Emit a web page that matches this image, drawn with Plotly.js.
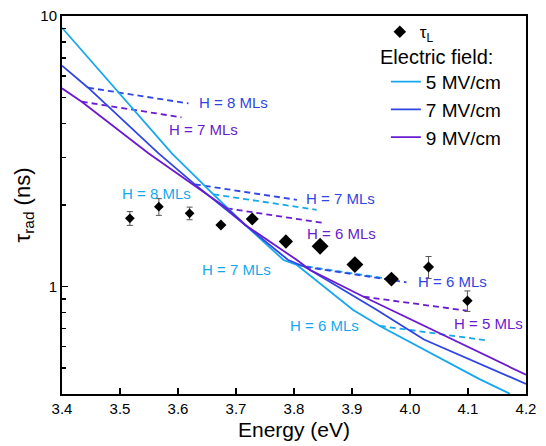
<!DOCTYPE html>
<html>
<head>
<meta charset="utf-8">
<script src="https://cdn.plot.ly/plotly-3.0.1.min.js"></script>
<style>html,body{margin:0;padding:0;background:#fff;}#chart{width:546px;height:446px;}</style>
</head>
<body>
<div id="chart"></div>
<script>
// Measured lifetimes tau_L
const measE   = [3.517, 3.567, 3.620, 3.674, 3.728, 3.786, 3.845, 3.905, 3.968, 4.032, 4.099];
const measTau = [1.786, 1.971, 1.864, 1.687, 1.776, 1.466, 1.407, 1.204, 1.064, 1.180, 0.885];
const measErr = [0.105, 0.140, 0.100, 0, 0, 0, 0, 0, 0, 0.110, 0.077];

// Theory, solid curves (tau_rad vs energy) for each electric field
const e5   = [3.400, 3.589, 3.661, 3.716, 3.782, 3.805, 3.902, 3.948, 4.119, 4.172];
const tau5 = [9.05, 3.11, 2.19, 1.687, 1.252, 1.200, 0.818, 0.714, 0.455, 0.401];
const e7   = [3.400, 3.445, 3.566, 3.629, 3.716, 3.790, 3.819, 3.943, 4.024, 4.200];
const tau7 = [6.55, 5.43, 3.11, 2.385, 1.687, 1.252, 1.180, 0.818, 0.636, 0.436];
const e9   = [3.400, 3.434, 3.549, 3.684, 3.716, 3.805, 3.828, 3.920, 4.200];
const tau9 = [5.40, 4.82, 3.11, 1.945, 1.687, 1.252, 1.150, 0.916, 0.471];

// Dashed branches (fixed thickness H), [start, end]
const d5_H8 = {e: [3.661, 3.839], t: [2.19, 1.92]};
const d5_H7 = {e: [3.805, 3.969], t: [1.20, 1.062]};
const d5_H6 = {e: [3.948, 4.129], t: [0.714, 0.633]};
const d7_H8 = {e: [3.445, 3.618], t: [5.43, 4.75]};
const d7_H7 = {e: [3.629, 3.805], t: [2.385, 2.09]};
const d7_H6 = {e: [3.819, 3.994], t: [1.180, 1.035]};
const d9_H7 = {e: [3.434, 3.606], t: [4.82, 4.22]};
const d9_H6 = {e: [3.684, 3.848], t: [1.945, 1.72]};
const d9_H5 = {e: [3.920, 4.098], t: [0.916, 0.813]};

// Labels
const labTexts = ['H = 8 MLs','H = 7 MLs','H = 8 MLs','H = 7 MLs','H = 6 MLs','H = 7 MLs','H = 6 MLs','H = 5 MLs','H = 6 MLs'];
const labE     = [3.633, 3.581, 3.500, 3.817, 3.819, 3.638, 4.010, 4.072, 3.790];
const labTau   = [4.77, 3.79, 2.197, 2.114, 1.563, 1.150, 1.041, 0.729, 0.714];
const labField = [7, 9, 5, 7, 9, 5, 7, 9, 5];

const fieldNames = ['5 MV/cm', '7 MV/cm', '9 MV/cm'];
const legendHeading = 'Electric field:';

const C5 = '#16a8ee', C7 = '#2f46e2', C9 = '#6a1ad0';
const colorOf = {5: C5, 7: C7, 9: C9};
const FONT = 'Arial, "Liberation Sans", sans-serif';

function dashTrace(d, c) {
  return {x: d.e, y: d.t, mode: 'lines', type: 'scatter', showlegend: false, hoverinfo: 'skip',
          line: {color: c, width: 1.8, dash: '6px,4px'}};
}

const traces = [
  dashTrace(d5_H8, C5), dashTrace(d5_H7, C5), dashTrace(d5_H6, C5),
  dashTrace(d7_H8, C7), dashTrace(d7_H7, C7), dashTrace(d7_H6, C7),
  dashTrace(d9_H7, C9), dashTrace(d9_H6, C9), dashTrace(d9_H5, C9),
  {x: e5, y: tau5, mode: 'lines', type: 'scatter', name: fieldNames[0], legend: 'legend2', line: {color: C5, width: 1.8}},
  {x: e7, y: tau7, mode: 'lines', type: 'scatter', name: fieldNames[1], legend: 'legend2', line: {color: C7, width: 1.8}},
  {x: e9, y: tau9, mode: 'lines', type: 'scatter', name: fieldNames[2], legend: 'legend2', line: {color: C9, width: 1.8}},
  {x: measE, y: measTau, mode: 'markers', type: 'scatter', name: 'τ<sub>L</sub>', legend: 'legend',
   marker: {symbol: 'diamond', color: '#000', opacity: 1, size: [7.5, 7.5, 7.5, 8.5, 10, 11, 13, 13, 11.5, 8.5, 8],
            line: {width: 0}},
   error_y: {type: 'data', array: measErr, visible: true, color: '#555', thickness: 1, width: 3}}
];

const annotations = labTexts.map((t, i) => ({
  x: labE[i], y: Math.log10(labTau[i]), xref: 'x', yref: 'y', text: t, showarrow: false,
  xanchor: 'left', yanchor: 'middle', font: {family: FONT, size: 15, color: colorOf[labField[i]]}
}));
annotations.push({
  x: 0.681, y: 0.8915, xref: 'paper', yref: 'paper', text: legendHeading, showarrow: false,
  xanchor: 'left', yanchor: 'middle', font: {family: FONT, size: 20, color: '#000'}
});

const layout = {
  width: 546, height: 446,
  margin: {l: 62, r: 20, t: 16, b: 52},
  paper_bgcolor: '#fff', plot_bgcolor: '#fff',
  font: {family: FONT, size: 15, color: '#000'},
  xaxis: {
    range: [3.4, 4.2], dtick: 0.1, tick0: 3.4, tickformat: '.1f',
    ticks: 'inside', ticklen: 6, tickwidth: 1.5, tickcolor: '#000',
    showline: true, linewidth: 2, linecolor: '#000', mirror: true,
    showgrid: false, zeroline: false,
    tickfont: {family: FONT, size: 15},
    title: {text: 'Energy (eV)', font: {family: FONT, size: 21}, standoff: 6}
  },
  yaxis: {
    type: 'log', range: [Math.log10(0.4), 1],
    tickmode: 'array', tickvals: [1, 10], ticktext: ['1', '10'],
    ticks: 'inside', ticklen: 6, tickwidth: 1.5, tickcolor: '#000',
    minor: {tickmode: 'array', tickvals: [0.5, 0.6, 0.7, 0.8, 0.9, 2, 3, 4, 5, 6, 7, 8, 9],
            ticks: 'inside', ticklen: 4, tickwidth: 1.5, tickcolor: '#000', showgrid: false},
    showline: true, linewidth: 2, linecolor: '#000', mirror: true,
    showgrid: false, zeroline: false,
    tickfont: {family: FONT, size: 15},
    title: {text: 'τ<sub>rad</sub> (ns)', font: {family: FONT, size: 22}, standoff: 4}
  },
  legend: {x: 0.685, y: 1.005, xanchor: 'left', yanchor: 'top', bgcolor: 'rgba(0,0,0,0)',
           font: {family: FONT, size: 17}, tracegroupgap: 0},
  legend2: {x: 0.698, y: 0.876, xanchor: 'left', yanchor: 'top', bgcolor: 'rgba(0,0,0,0)',
            font: {family: FONT, size: 19}, tracegroupgap: 0},
  annotations: annotations,
  showlegend: true
};

Plotly.newPlot('chart', traces, layout, {staticPlot: true, displayModeBar: false});
</script>
</body>
</html>
